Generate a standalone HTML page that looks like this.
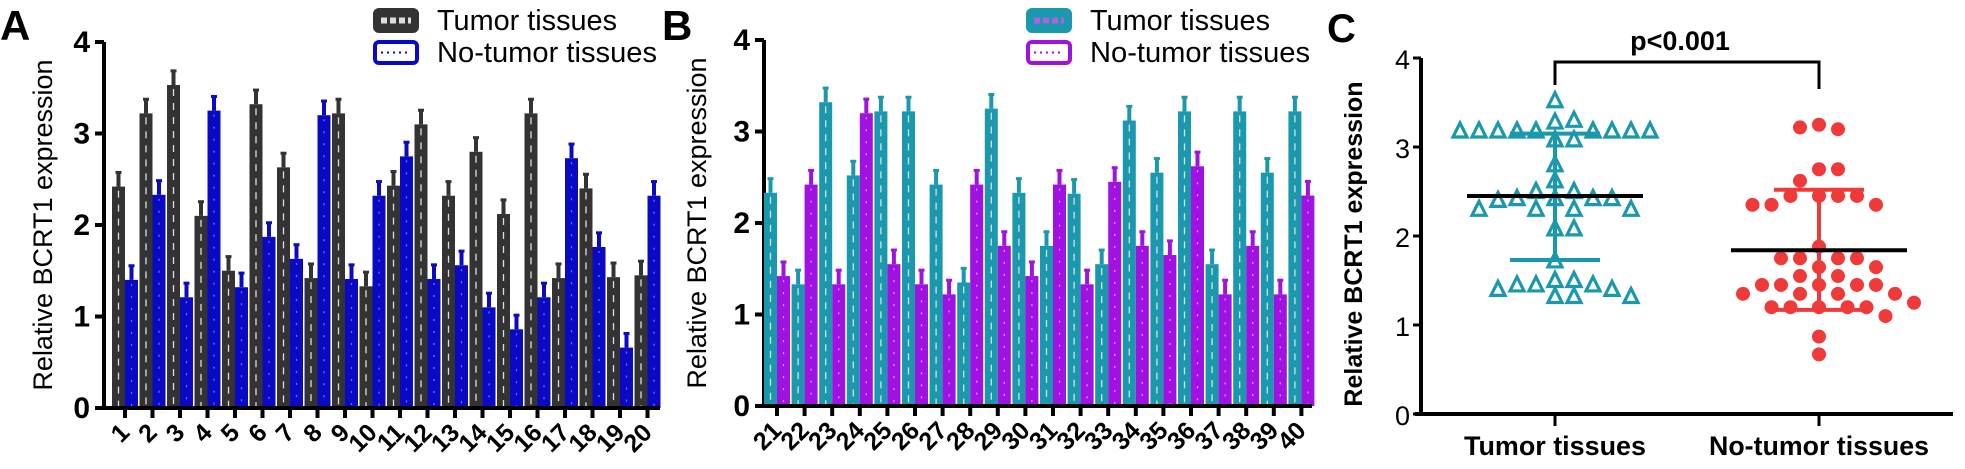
<!DOCTYPE html>
<html><head><meta charset="utf-8"><style>
html,body{margin:0;padding:0;background:#fff;}
svg{display:block;font-family:"Liberation Sans",Arial,sans-serif;}
</style></head><body>
<svg id="fig" width="1965" height="469" viewBox="0 0 1965 469" xmlns="http://www.w3.org/2000/svg">
<g id="gA"></g>
<g id="gB"></g>
<g id="gC"></g>
</svg>
<script>
const NS="http://www.w3.org/2000/svg";
// Panel A data
const catsA=["1","2","3","4","5","6","7","8","9","10","11","12","13","14","15","16","17","18","19","20"];
const tumorA=[2.42,3.22,3.53,2.1,1.5,3.32,2.63,1.42,3.22,1.33,2.43,3.1,2.32,2.8,2.12,3.22,1.42,2.4,1.43,1.45];
const normA=[1.4,2.33,1.21,3.25,1.32,1.87,1.63,3.2,1.41,2.32,2.75,1.41,1.56,1.1,0.86,1.21,2.73,1.76,0.66,2.32];
// Panel B data
const catsB=["21","22","23","24","25","26","27","28","29","30","31","32","33","34","35","36","37","38","39","40"];
const tumorB=[2.33,1.33,3.32,2.52,3.22,3.22,2.42,1.35,3.25,2.33,1.75,2.32,1.55,3.12,2.55,3.22,1.55,3.22,2.55,3.22];
const normB=[1.42,2.42,1.33,3.2,1.55,1.33,1.22,2.42,1.75,1.42,2.42,1.33,2.45,1.75,1.65,2.62,1.22,1.75,1.22,2.3];
const errBar=0.16;
const yTicks=["0","1","2","3","4"];
// Panel C data
const groupsC=["Tumor tissues","No-tumor tissues"];
const tumorC=[3.52,3.28,3.3,3.18,3.18,3.18,3.18,3.18,3.18,3.18,3.18,3.18,3.08,3.08,2.8,2.62,2.5,2.5,2.42,2.42,2.42,2.42,2.4,2.3,2.3,2.3,2.3,2.08,2.08,1.72,1.5,1.5,1.45,1.45,1.45,1.4,1.4,1.32,1.32,1.32];
const normC=[3.25,3.2,3.22,2.75,2.75,2.62,2.45,2.45,2.45,2.45,2.35,2.35,2.35,1.88,1.75,1.75,1.75,1.75,1.65,1.65,1.55,1.55,1.45,1.45,1.45,1.45,1.45,1.35,1.35,1.35,1.35,1.2,1.2,1.2,1.2,1.2,1.25,1.1,0.87,0.67];
const meanC=[2.45,1.84];
const sdLoC=[1.73,1.17];
const sdHiC=[3.15,2.52];

function el(p,tag,attrs,txt){const e=document.createElementNS(NS,tag);for(const k in attrs)e.setAttribute(k,attrs[k]);if(txt!==undefined)e.textContent=txt;p.appendChild(e);return e;}

function barPanel(g,cfg){
  const y=v=>cfg.y0-(v/4)*(cfg.y0-cfg.y4);
  const x=i=>cfg.x1+i*cfg.step;
  // y axis
  let a=el(g,'line',{x1:cfg.ax,y1:cfg.y4,x2:cfg.ax,y2:cfg.y0+1,stroke:'#000','stroke-width':4});
  
  yTicks.forEach((t,k)=>{
    const l=el(g,'line',{x1:cfg.ax-9,x2:cfg.ax,y1:y(k),y2:y(k),stroke:'#000','stroke-width':4});
    
    const tx=el(g,'text',{x:cfg.ax-14,y:y(k)+10,'text-anchor':'end','font-size':30,'font-weight':'bold'},t);
    
  });
  // bars
  cfg.cats.forEach((c,i)=>{
    const cx=x(i);
    [[cfg.t,cfg.tc,cx-13,'#ddd'],[cfg.n,cfg.nc,cx,cfg.nl]].forEach(([arr,col,bx,ln],s)=>{
      const v=arr[i];
      const st=el(g,'rect',{x:bx+4.5,y:y(v+errBar),width:4,height:y(v)-y(v+errBar),fill:col});
      
      const cap=el(g,'rect',{x:bx+3.5,y:y(v+errBar)-1,width:6,height:3,fill:col});
      
      const b=el(g,'rect',{x:bx,y:y(v),width:13,height:cfg.y0-y(v),fill:col});
      
      const d=el(g,'line',{x1:bx+6.5,x2:bx+6.5,y1:y(v)+4,y2:cfg.y0-2,stroke:ln,'stroke-width':1.3,'stroke-dasharray':s?'2 10':'7 7'});
      
    });
    const tk=el(g,'line',{x1:cx,x2:cx,y1:cfg.y0,y2:cfg.y0+10,stroke:'#000','stroke-width':4});
    
    const lb=el(g,'text',{x:cx+6,y:cfg.y0+26,'text-anchor':'end','font-size':25,'font-weight':'bold',transform:`rotate(-45 ${cx+6} ${cfg.y0+26})`},c);
    
  });
  a=el(g,'line',{x1:cfg.ax-8,y1:cfg.y0,x2:cfg.xend,y2:cfg.y0,stroke:'#000','stroke-width':4});
  
  // title
  const ty=(cfg.y0+cfg.y4)/2;
  const tt=el(g,'text',{x:cfg.tx,y:ty,'text-anchor':'middle','font-size':27,transform:`rotate(-90 ${cfg.tx} ${ty})`},'Relative  BCRT1 expression');
  
  const pl=el(g,'text',{x:cfg.lx,y:40,'font-size':42,'font-weight':'bold'},cfg.letter);
  
  // legend
  [[cfg.tc,'Tumor tissues',10],[cfg.nc,'No-tumor tissues',42]].forEach(([col,txt,yy],s)=>{
    const r=el(g,'rect',{x:cfg.legx,y:yy,width:42,height:21,rx:4,fill:s?'#fff':col,stroke:col,'stroke-width':4});
    
    if(!s){const p=el(g,'line',{x1:cfg.legx+6,x2:cfg.legx+36,y1:yy+10.5,y2:yy+10.5,stroke:cfg.legPat,'stroke-width':6,'stroke-dasharray':'6 3'});}
    else{const p=el(g,'line',{x1:cfg.legx+6,x2:cfg.legx+36,y1:yy+10.5,y2:yy+10.5,stroke:col,'stroke-width':2,'stroke-dasharray':'2 4'});}
    const t=el(g,'text',{x:cfg.legx+62,y:yy+20,'font-size':cfg.legFs,textLength:cfg.legW[s],lengthAdjust:'spacingAndGlyphs'},txt);
    
  });
}
barPanel(document.getElementById('gA'),{cats:catsA,t:tumorA,n:normA,tc:'#333333',nc:'#0a0ac4',nl:'#6f6fff',ax:104,x1:125,step:27.5,y0:408,y4:42,xend:660,tx:52,lx:0,letter:'A',legx:375,legPat:'#ddd',legFs:29,legW:[180,220]});
barPanel(document.getElementById('gB'),{cats:catsB,t:tumorB,n:normB,tc:'#1a98ae',nc:'#a012e2',nl:'#e090ff',ax:764,x1:777,step:27.6,y0:406,y4:40,xend:1312,tx:706,lx:662,letter:'B',legx:1028,legPat:'#b060d8',legFs:29,legW:[180,220]});

// Panel C
(function(){
  const g=document.getElementById('gC');
  const y0=414,y4=58,ax=1421;
  const y=v=>y0-(v/4)*(y0-y4);
  const xg=[1555,1819];
  let a=el(g,'line',{x1:ax,y1:y4,x2:ax,y2:y0+2,stroke:'#000','stroke-width':4});
  
  a=el(g,'line',{x1:ax-6,y1:y0,x2:1953,y2:y0,stroke:'#000','stroke-width':4});
  
  yTicks.forEach((t,k)=>{
    const l=el(g,'line',{x1:ax-8,x2:ax,y1:y(k),y2:y(k),stroke:'#000','stroke-width':3});
    
    const tx=el(g,'text',{x:ax-11,y:y(k)+11,'text-anchor':'end','font-size':27},t);
    
  });
  groupsC.forEach((gname,i)=>{
    const l=el(g,'line',{x1:xg[i],x2:xg[i],y1:y0,y2:y0+12,stroke:'#000','stroke-width':3});
    
    const t=el(g,'text',{x:xg[i],y:455,'text-anchor':'middle','font-size':27,'font-weight':'bold',textLength:i?220:182,lengthAdjust:'spacingAndGlyphs'},gname);
    
  });
  const ty=(y0+y4)/2+8;
  const tt=el(g,'text',{x:1362,y:ty,'text-anchor':'middle','font-size':25,'font-weight':'bold',transform:`rotate(-90 1362 ${ty})`},'Relative  BCRT1 expression');
  
  const pl=el(g,'text',{x:1327,y:42,'font-size':40,'font-weight':'bold'},'C');
  
  // bracket
  const br=el(g,'path',{d:`M${xg[0]},85 V62 H${xg[1]} V89`,fill:'none',stroke:'#000','stroke-width':3});
  
  const pt=el(g,'text',{x:1680,y:50,'text-anchor':'middle','font-size':27,'font-weight':'bold'},'p<0.001');
  
  // swarm placement
  function swarm(vals,cx){
    const placed=[];const out=[];
    vals.forEach(v=>{
      const py=y(v);let k=0,px;
      while(true){
        const off=(k===0?0:(k%2?1:-1)*Math.ceil(k/2)*9.5);
        px=cx+off;
        if(placed.every(p=>Math.hypot(p[0]-px,p[1]-py)>=16)) break;
        k++;
      }
      placed.push([px,py]);out.push([px,py]);
    });
    return out;
  }
  const teal='#1a98ae',red='#f03a3a';
  swarm(tumorC,xg[0]).forEach(([px,py])=>{
    const p=el(g,'path',{d:`M${px},${py-8} L${px+7},${py+6} L${px-7},${py+6} Z`,fill:'#fff',stroke:teal,'stroke-width':3.2});
    
  });
  swarm(normC,xg[1]).forEach(([px,py])=>{
    const p=el(g,'circle',{cx:px,cy:py,r:7,fill:red});
    
  });
  [teal,red].forEach((col,i)=>{
    const cw=i?45:45;
    const s=el(g,'line',{x1:xg[i],x2:xg[i],y1:y(sdLoC[i]),y2:y(sdHiC[i]),stroke:col,'stroke-width':4});
    
    [sdLoC[i],sdHiC[i]].forEach(v=>{
      const c=el(g,'line',{x1:xg[i]-cw,x2:xg[i]+cw,y1:y(v),y2:y(v),stroke:col,'stroke-width':4});
      
    });
    const m=el(g,'line',{x1:xg[i]-88,x2:xg[i]+88,y1:y(meanC[i]),y2:y(meanC[i]),stroke:'#000','stroke-width':4});
    
  });
})();
</script>
</body></html>
